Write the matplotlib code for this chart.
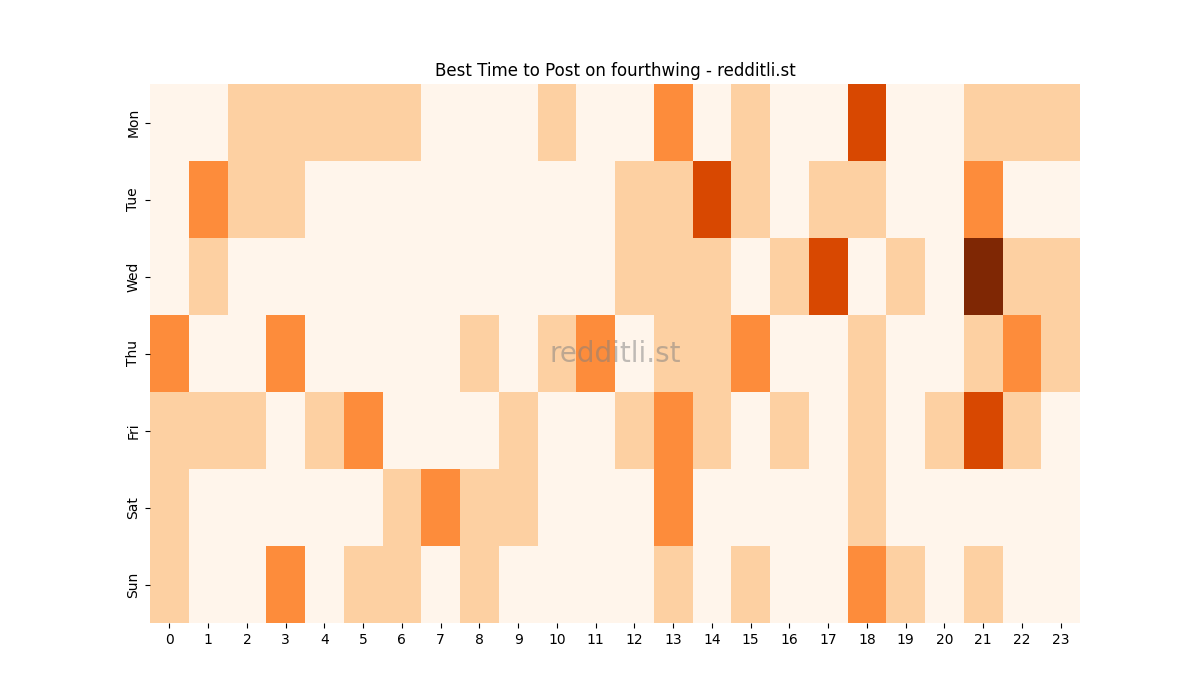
import numpy as np
import pandas as pd
import matplotlib
matplotlib.use('Agg')
import matplotlib.pyplot as plt
import seaborn as sns

# posting activity level per weekday / hour
days = ['Mon', 'Tue', 'Wed', 'Thu', 'Fri', 'Sat', 'Sun']
hours = list(range(24))

mon = [0, 0, 1, 1, 1, 1, 1, 0, 0, 0, 1, 0, 0, 2, 0, 1, 0, 0, 3, 0, 0, 1, 1, 1]
tue = [0, 2, 1, 1, 0, 0, 0, 0, 0, 0, 0, 0, 1, 1, 3, 1, 0, 1, 1, 0, 0, 2, 0, 0]
wed = [0, 1, 0, 0, 0, 0, 0, 0, 0, 0, 0, 0, 1, 1, 1, 0, 1, 3, 0, 1, 0, 4, 1, 1]
thu = [2, 0, 0, 2, 0, 0, 0, 0, 1, 0, 1, 2, 0, 1, 1, 2, 0, 0, 1, 0, 0, 1, 2, 1]
fri = [1, 1, 1, 0, 1, 2, 0, 0, 0, 1, 0, 0, 1, 2, 1, 0, 1, 0, 1, 0, 1, 3, 1, 0]
sat = [1, 0, 0, 0, 0, 0, 1, 2, 1, 1, 0, 0, 0, 2, 0, 0, 0, 0, 1, 0, 0, 0, 0, 0]
sun = [1, 0, 0, 2, 0, 1, 1, 0, 1, 0, 0, 0, 0, 1, 0, 1, 0, 0, 2, 1, 0, 1, 0, 0]

df = pd.DataFrame([mon, tue, wed, thu, fri, sat, sun], index=days, columns=hours)

fig, ax = plt.subplots(figsize=(12, 7), dpi=100)
sns.heatmap(df, cmap='Oranges', vmin=0, vmax=4, cbar=False, ax=ax)
ax.set_title('Best Time to Post on fourthwing - redditli.st')
ax.set_xlabel('')
ax.set_ylabel('')

# watermark
ax.text(0.5, 0.5, 'redditli.st', transform=ax.transAxes, ha='center', va='center',
        fontsize=20, color='gray', alpha=0.5)

plt.savefig('out.png')
